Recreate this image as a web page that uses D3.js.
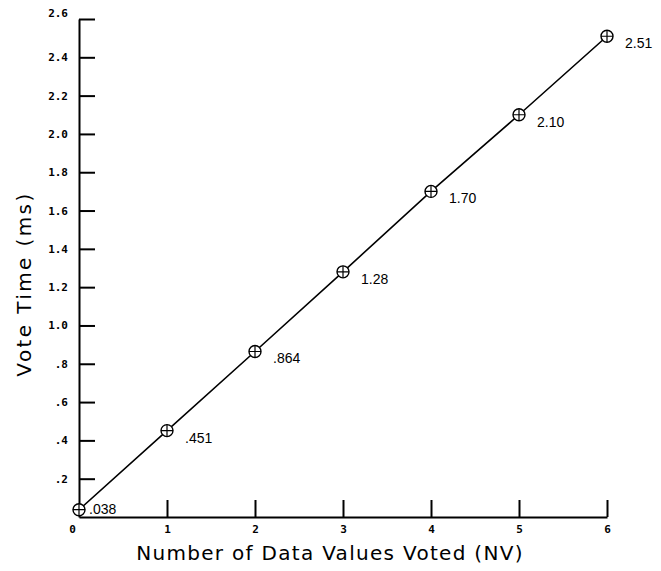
<!DOCTYPE html>
<html>
<head>
<meta charset="utf-8">
<script src="https://cdn.jsdelivr.net/npm/d3@7"></script>
<style>
  body { margin: 0; background: #fff; }
  svg { display: block; }
  .tick text { font-family: "DejaVu Sans Mono", monospace; font-weight: bold; font-size: 11px; fill: #000; }
</style>
</head>
<body>
<div id="chart"></div>
<script>
// Data
const nvValues = [0, 1, 2, 3, 4, 5, 6];
const voteTimes = [0.038, 0.451, 0.864, 1.28, 1.70, 2.10, 2.51];
const pointLabels = [".038", ".451", ".864", "1.28", "1.70", "2.10", "2.51"];
const xTicks = [0, 1, 2, 3, 4, 5, 6];
const yTicks = [0.2, 0.4, 0.6, 0.8, 1.0, 1.2, 1.4, 1.6, 1.8, 2.0, 2.2, 2.4, 2.6];
const yTickLabels = [".2", ".4", ".6", ".8", "1.0", "1.2", "1.4", "1.6", "1.8", "2.0", "2.2", "2.4", "2.6"];

const width = 661, height = 571;
const margin = { top: 19, right: 54, bottom: 54, left: 79 };

const svg = d3.select("#chart")
    .append("svg")
    .attr("width", width)
    .attr("height", height);

const x = d3.scaleLinear()
    .domain([0, 6])
    .range([margin.left, width - margin.right]);

const y = d3.scaleLinear()
    .domain([0, 2.6])
    .range([height - margin.bottom, margin.top]);

// X axis, ticks pointing up into the plot
const xAxis = svg.append("g")
    .attr("transform", `translate(0,${y(0)})`)
    .call(d3.axisBottom(x)
        .tickValues(xTicks)
        .tickFormat(d3.format("d"))
        .tickSize(-17)
        .tickSizeOuter(0)
        .tickPadding(8));
xAxis.select(".domain").attr("stroke-width", 2);
xAxis.selectAll(".tick line").attr("stroke-width", 2)
    .filter(d => d === 0).remove();
xAxis.selectAll(".tick text").filter(d => d === 0).attr("dx", -7);

// Y axis, ticks pointing right into the plot
const yAxis = svg.append("g")
    .attr("transform", `translate(${x(0)},0)`)
    .call(d3.axisLeft(y)
        .tickValues(yTicks)
        .tickFormat((d, i) => yTickLabels[i])
        .tickSize(-16)
        .tickSizeOuter(0)
        .tickPadding(11));
yAxis.select(".domain").attr("stroke-width", 2);
yAxis.selectAll(".tick line").attr("stroke-width", 2);
yAxis.selectAll(".tick text").filter(d => d === 2.6).attr("dy", "-0.2em");

// Data line
const points = nvValues.map((v, i) => ({ nv: v, t: voteTimes[i], label: pointLabels[i] }));

svg.append("path")
    .datum(points)
    .attr("fill", "none")
    .attr("stroke", "#000")
    .attr("stroke-width", 1.6)
    .attr("d", d3.line().x(d => x(d.nv)).y(d => y(d.t)));

// Circle-plus markers
const marks = svg.selectAll(".mark")
    .data(points)
    .enter()
    .append("g")
    .attr("class", "mark")
    .attr("transform", d => `translate(${x(d.nv)},${y(d.t)})`);

marks.append("circle")
    .attr("r", 6)
    .attr("fill", "#fff")
    .attr("stroke", "#000")
    .attr("stroke-width", 1.4);

marks.append("path")
    .attr("d", "M-6,0H6M0,-6V6")
    .attr("stroke", "#000")
    .attr("stroke-width", 1.2);

// Value labels beside each marker
svg.selectAll(".value-label")
    .data(points)
    .enter()
    .append("text")
    .attr("class", "value-label")
    .attr("x", (d, i) => x(d.nv) + (i === 0 ? 10 : 18))
    .attr("y", (d, i) => y(d.t) + (i === 0 ? -1 : 7))
    .attr("dy", "0.35em")
    .attr("font-family", "Liberation Sans, sans-serif")
    .attr("font-size", 14)
    .text(d => d.label);

// Axis titles
svg.append("text")
    .attr("x", 330)
    .attr("y", 560)
    .attr("text-anchor", "middle")
    .attr("font-family", "DejaVu Sans, sans-serif")
    .attr("font-size", 20)
    .attr("letter-spacing", 1.3)
    .text("Number of Data Values Voted (NV)");

svg.append("text")
    .attr("transform", `translate(31,284) rotate(-90)`)
    .attr("text-anchor", "middle")
    .attr("font-family", "DejaVu Sans, sans-serif")
    .attr("font-size", 20)
    .attr("letter-spacing", 2.4)
    .text("Vote Time (ms)");
</script>
</body>
</html>
